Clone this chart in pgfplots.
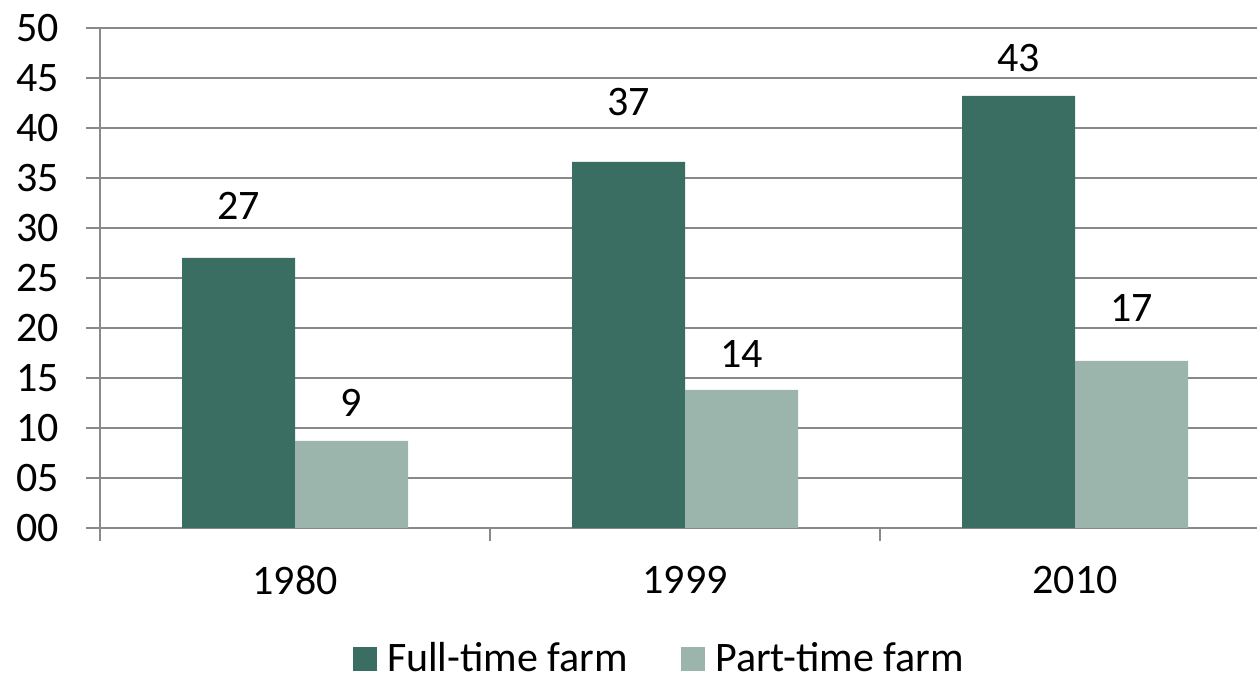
\documentclass[border=0pt]{standalone}
\usepackage{fontspec}
\setmainfont{Carlito}
\usepackage{pgfplots}
\usepackage{pgfplotstable}
\pgfplotsset{compat=1.18}
\definecolor{fulltime}{HTML}{3B6E62}
\definecolor{parttime}{HTML}{9CB5AC}
\definecolor{gridgray}{HTML}{898989}
\newcommand\cf{\fontsize{42bp}{50bp}\selectfont}
\pgfplotsset{
  sq legend/.style={legend image code/.code={\fill[##1] (0bp,-13bp) rectangle (24bp,11bp);}},
}
% x = category, y = value, s = label gap above the bar (bp)
\pgfplotstableread{
x y s
0 27.0 38
1 36.6 46
2 43.2 24
}\fulltab
\pgfplotstableread{
x y s
0 8.7 24
1 13.8 22
2 16.7 39
}\parttab
\begin{document}
\begin{tikzpicture}
\path[use as bounding box] (0,0) rectangle (1257bp,675bp);
\begin{axis}[
  at={(100bp,147bp)}, anchor=south west,
  scale only axis, width=1157bp, height=500bp,
  ybar=0pt, bar width=113bp,
  xmin=-0.5, xmax=2.4667, ymin=0, ymax=50,
  axis x line=bottom, axis y line=left,
  axis line style={draw=gridgray, line width=1.5bp, -},
  ytick={0,5,...,50},
  yticklabels={00,05,10,15,20,25,30,35,40,45,50},
  xtick={0,1,2},
  xticklabels={1980,1999,2010},
  minor xtick={-0.5,0.5,1.5},
  tick align=outside,
  major tick length=14bp, minor tick length=13bp,
  major x tick style={draw=none},
  minor x tick style={draw=gridgray, line width=1.5bp},
  ytick style={draw=gridgray, line width=1.5bp},
  ymajorgrids,
  grid style={draw=gridgray, line width=1.5bp},
  tick label style={font=\cf, text=black},
  /pgf/number format/assume math mode=true,
  xticklabel style={anchor=north, inner sep=0pt, yshift=-24bp},
  yticklabel style={anchor=east, inner sep=0pt, xshift=-27bp},
  nodes near coords,
  /pgf/number format/fixed, /pgf/number format/precision=0,
  visualization depends on={\thisrow{s}\as\lshift},
  every node near coord/.append style={font=\cf, text=black, anchor=south, inner sep=0pt, yshift=\lshift bp},
  legend columns=-1,
  legend style={at={(0.2187,-0.290)}, anchor=south west, draw=none, fill=none,
    inner sep=0pt, outer sep=0pt, font=\cf, nodes={inner sep=0pt, outer sep=0pt},
    /tikz/every odd column/.append style={column sep=10bp},
    /tikz/every even column/.append style={column sep=53bp}},
]
\addplot[fill=fulltime, draw=none, sq legend] table[x=x, y=y] {\fulltab};
\addplot[fill=parttime, draw=none, sq legend] table[x=x, y=y] {\parttab};
\legend{Full-time farm, Part-time farm}
\end{axis}
\end{tikzpicture}
\end{document}
